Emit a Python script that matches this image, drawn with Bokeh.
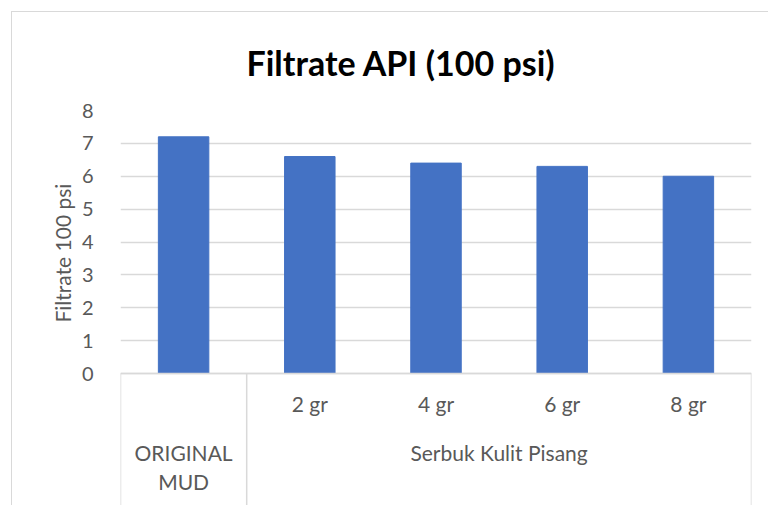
import math
from bokeh.plotting import figure
from bokeh.models import Range1d, FixedTicker, ColumnDataSource, Title, InlineStyleSheet
from bokeh.core.properties import value
from bokeh.embed import file_html
from bokeh.resources import INLINE

# ---- data ----
categories = ["ORIGINAL MUD", "2 gr", "4 gr", "6 gr", "8 gr"]
group_of = ["ORIGINAL MUD", "Serbuk Kulit Pisang", "Serbuk Kulit Pisang",
            "Serbuk Kulit Pisang", "Serbuk Kulit Pisang"]
filtrate = [7.2, 6.6, 6.4, 6.3, 6.0]
y_ticks = [0, 1, 2, 3, 4, 5, 6, 7, 8]
title_text = "Filtrate API (100 psi)"
y_label = "Filtrate 100 psi"

# ---- styling / layout ----
FONT = "Lato"
TXT = "#595959"
GRID = "#d9d9d9"
BAR = "#4472C4"
W, H = 768, 505
TOP, LEFT, RIGHT = 110, 120, 17
ZERO_PX = 373
PX = (ZERO_PX - TOP) / max(y_ticks)      # pixels per y unit
Y_LOW = -(H - ZERO_PX) / PX               # category-label band below zero

xs = list(range(len(categories)))

p = figure(width=W, height=H, output_backend="svg", toolbar_location=None,
           x_range=Range1d(-0.5, len(categories) - 0.5),
           y_range=Range1d(Y_LOW, max(y_ticks)),
           min_border_left=LEFT, min_border_right=RIGHT,
           min_border_top=TOP, min_border_bottom=0)

p.title.text = title_text
p.title.align = "left"
p.title.offset = 126
p.title.text_font = FONT
p.title.text_font_style = "bold"
p.title.text_font_size = "34px"
p.title.text_color = "#000000"
p.title.standoff = 56

p.outline_line_color = None
p.background_fill_color = "white"
p.border_fill_color = "white"

# light chart-area border (top / left edges visible in the crop)
p.stylesheets = [InlineStyleSheet(css=(
    ":host::after { content: ''; position: absolute; left: 11px; top: 11px; "
    "right: -10px; bottom: -10px; border-top: 1.5px solid #d9d9d9; "
    "border-left: 1.5px solid #d9d9d9; pointer-events: none; }"))]

p.xaxis.visible = False
p.xgrid.visible = False

p.yaxis.ticker = FixedTicker(ticks=y_ticks)
p.yaxis.axis_line_color = None
p.yaxis.major_tick_line_color = None
p.yaxis.minor_tick_line_color = None
p.yaxis.major_tick_out = 0
p.yaxis.major_label_standoff = 27
p.yaxis.major_label_text_font = FONT
p.yaxis.major_label_text_font_size = "20px"
p.yaxis.major_label_text_color = TXT
p.ygrid.ticker = FixedTicker(ticks=y_ticks)
p.ygrid.grid_line_color = GRID
p.ygrid.grid_line_width = 1.5

# y-axis title, centred on the 0..8 value span
y_title = Title(text=y_label, align="left", offset=H - 322, standoff=8,
                text_font=FONT, text_font_size="21px", text_font_style="normal",
                text_color=TXT)
p.add_layout(y_title, "left")

# bars
src = ColumnDataSource(dict(x=xs, top=filtrate))
p.vbar(x="x", top="top", width=0.4, source=src, fill_color=BAR, line_color=BAR)

# category axis box
n = len(categories)
p.segment(x0=[-0.5], y0=[0], x1=[n - 0.5], y1=[0], line_color=GRID, line_width=1.5)
bounds = [-0.5]
for i in range(1, n):
    if group_of[i] != group_of[i - 1]:
        bounds.append(i - 0.5)
bounds.append(n - 0.5)
p.segment(x0=bounds, y0=[0] * len(bounds), x1=bounds, y1=[Y_LOW] * len(bounds),
          line_color=GRID, line_width=1.5)

# inner labels (only for members of multi-item groups)
inner_x, inner_t = [], []
for i, c in enumerate(categories):
    if c != group_of[i]:
        inner_x.append(i)
        inner_t.append(c)
p.text(x=inner_x, y=[-30 / PX] * len(inner_x), text=inner_t,
       text_font=value(FONT), text_font_size="21px", text_color=TXT,
       text_align="center", text_baseline="middle")

# group labels
gx, gy, gt = [], [], []
seen = []
for g in group_of:
    if g in seen:
        continue
    seen.append(g)
    idx = [i for i, gg in enumerate(group_of) if gg == g]
    cx = sum(idx) / len(idx)
    if len(idx) == 1:
        for k, w in enumerate(g.split(" ")):
            gx.append(cx)
            gy.append((-79 - 29 * k) / PX)
            gt.append(w)
    else:
        gx.append(cx)
        gy.append(-79 / PX)
        gt.append(g)
p.text(x=gx, y=gy, text=gt,
       text_font=value(FONT), text_font_size="21px", text_color=TXT,
       text_align="center", text_baseline="middle")

open("out.html", "w").write(file_html(p, INLINE))
